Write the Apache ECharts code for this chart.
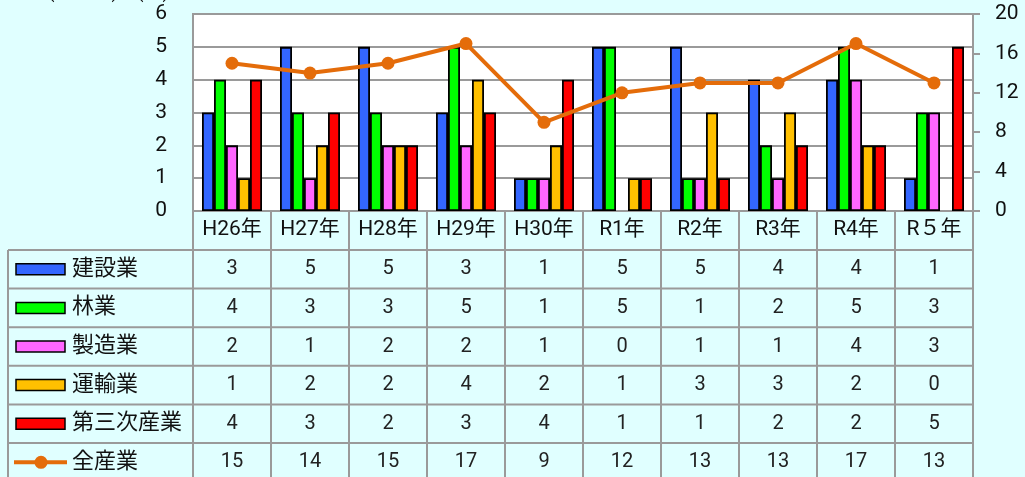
<!DOCTYPE html>
<html>
<head>
<meta charset="utf-8">
<script src="https://cdn.jsdelivr.net/npm/echarts@6/dist/echarts.min.js"></script>
<style>
  html, body { margin: 0; padding: 0; background: #e0ffff; }
  #chart { width: 1025px; height: 477px; }
</style>
</head>
<body>
<div id="chart"></div>
<script>
// categories (fiscal years)
const categories = ['H26年', 'H27年', 'H28年', 'H29年', 'H30年', 'R1年', 'R2年', 'R3年', 'R4年', 'R５年'];

// series values (人)
const construction  = [3, 5, 5, 3, 1, 5, 5, 4, 4, 1];   // 建設業
const forestry      = [4, 3, 3, 5, 1, 5, 1, 2, 5, 3];   // 林業
const manufacturing = [2, 1, 2, 2, 1, 0, 1, 1, 4, 3];   // 製造業
const transport     = [1, 2, 2, 4, 2, 1, 3, 3, 2, 0];   // 運輸業
const tertiary      = [4, 3, 2, 3, 4, 1, 1, 2, 2, 5];   // 第三次産業
const allIndustry   = [15, 14, 15, 17, 9, 12, 13, 13, 17, 13]; // 全産業

const leftTicks = [0, 1, 2, 3, 4, 5, 6];
const rightTicks = [0, 4, 8, 12, 16, 20];

const barSeries = [
    { name: '建設業', data: construction, color: '#3366ff' },
    { name: '林業', data: forestry, color: '#00ff00' },
    { name: '製造業', data: manufacturing, color: '#ff66ff' },
    { name: '運輸業', data: transport, color: '#ffc000' },
    { name: '第三次産業', data: tertiary, color: '#ff0000' }
];
const lineSeries = { name: '全産業', data: allIndustry, color: '#e46c0a' };

const FONT = 'Roboto, "Noto Sans CJK JP", sans-serif';
const GRID_COLOR = '#9a9a9a';

var chart = echarts.init(document.getElementById('chart'));

let option = {
    backgroundColor: '#e0ffff',
    animation: false,
    textStyle: { fontFamily: FONT },
    grid: {
        left: 193, right: 52, top: 14, bottom: 266,
        show: true, backgroundColor: '#ffffff',
        borderColor: GRID_COLOR, borderWidth: 2
    },
    xAxis: {
        type: 'category',
        data: categories,
        axisLine: { show: true, lineStyle: { color: GRID_COLOR, width: 2 } },
        axisTick: { show: true, alignWithLabel: false, length: 39, lineStyle: { color: GRID_COLOR, width: 2 } },
        axisLabel: { fontSize: 21, color: '#111', margin: 8, fontFamily: FONT }
    },
    yAxis: [
        {
            type: 'value', min: leftTicks[0], max: leftTicks[leftTicks.length - 1], interval: 1,
            axisLine: { show: false }, axisTick: { show: false },
            axisLabel: { fontSize: 21, color: '#111', margin: 26, fontFamily: FONT },
            splitLine: { lineStyle: { color: GRID_COLOR, width: 2 } }
        },
        {
            type: 'value', min: rightTicks[0], max: rightTicks[rightTicks.length - 1], interval: 4,
            position: 'right',
            axisLine: { show: true, lineStyle: { color: GRID_COLOR, width: 2 } },
            axisTick: { show: true, length: 7, lineStyle: { color: GRID_COLOR, width: 2 } },
            axisLabel: { fontSize: 21, color: '#111', margin: 22, fontFamily: FONT },
            splitLine: { show: false }
        }
    ],
    series: []
};

barSeries.forEach(function (s) {
    option.series.push({
        name: s.name, type: 'bar', yAxisIndex: 0,
        // zero values get no outline so no stub is drawn on the baseline
        data: s.data.map(v => v === 0 ? { value: v, itemStyle: { borderWidth: 0 } } : v),
        barWidth: 12, barGap: '0%',
        itemStyle: { color: s.color, borderColor: '#000', borderWidth: 1.8 }
    });
});
option.series.push({
    name: lineSeries.name, type: 'line', yAxisIndex: 1,
    data: lineSeries.data, symbol: 'circle', symbolSize: 13,
    lineStyle: { color: lineSeries.color, width: 4 },
    itemStyle: { color: lineSeries.color }, z: 5
});

chart.setOption(option);

// data table below the plot, positioned from the category axis
const rowTop = 250, rowH = 38.6, tableLeft = 8, labelColRight = 193;
const colCenters = categories.map((c, i) => chart.convertToPixel({ xAxisIndex: 0 }, i));
const colW = colCenters[1] - colCenters[0];
const tableRight = colCenters[colCenters.length - 1] + colW / 2;
const rows = barSeries.concat([lineSeries]);
let g = [];
const ls = { stroke: GRID_COLOR, lineWidth: 2 };

for (let k = 0; k <= rows.length; k++) {
    let y = rowTop + k * rowH;
    g.push({ type: 'line', shape: { x1: tableLeft, y1: y, x2: tableRight, y2: y }, style: ls });
}
let vx = [tableLeft, labelColRight].concat(colCenters.map(c => c + colW / 2));
vx.forEach(function (x) {
    g.push({ type: 'line', shape: { x1: x, y1: rowTop, x2: x, y2: 477 + 10 }, style: ls });
});

rows.forEach(function (s, r) {
    let cy = rowTop + r * rowH + rowH / 2;
    if (s !== lineSeries) {
        g.push({ type: 'rect', shape: { x: 16, y: cy - 5.5, width: 49, height: 11 },
                 style: { fill: s.color, stroke: '#000', lineWidth: 1.5 } });
    } else {
        g.push({ type: 'line', shape: { x1: 14, y1: cy, x2: 67, y2: cy },
                 style: { stroke: s.color, lineWidth: 4 } });
        g.push({ type: 'circle', shape: { cx: 41, cy: cy, r: 6.5 }, style: { fill: s.color } });
    }
    g.push({ type: 'text', x: 72, y: cy,
             style: { text: s.name, font: '22px ' + FONT, fill: '#111', align: 'left', verticalAlign: 'middle' } });
    s.data.forEach(function (v, i) {
        g.push({ type: 'text', x: colCenters[i], y: cy,
                 style: { text: String(v), font: '20px ' + FONT, fill: '#222', align: 'center', verticalAlign: 'middle' } });
    });
});

// clipped unit caption at the top
g.push({ type: 'text', x: 48, y: -16,
         style: { text: '(業種別)　(人)', font: '19px ' + FONT, fill: '#111', align: 'left', verticalAlign: 'top' } });

chart.setOption({ graphic: { elements: g } });
</script>
</body>
</html>
